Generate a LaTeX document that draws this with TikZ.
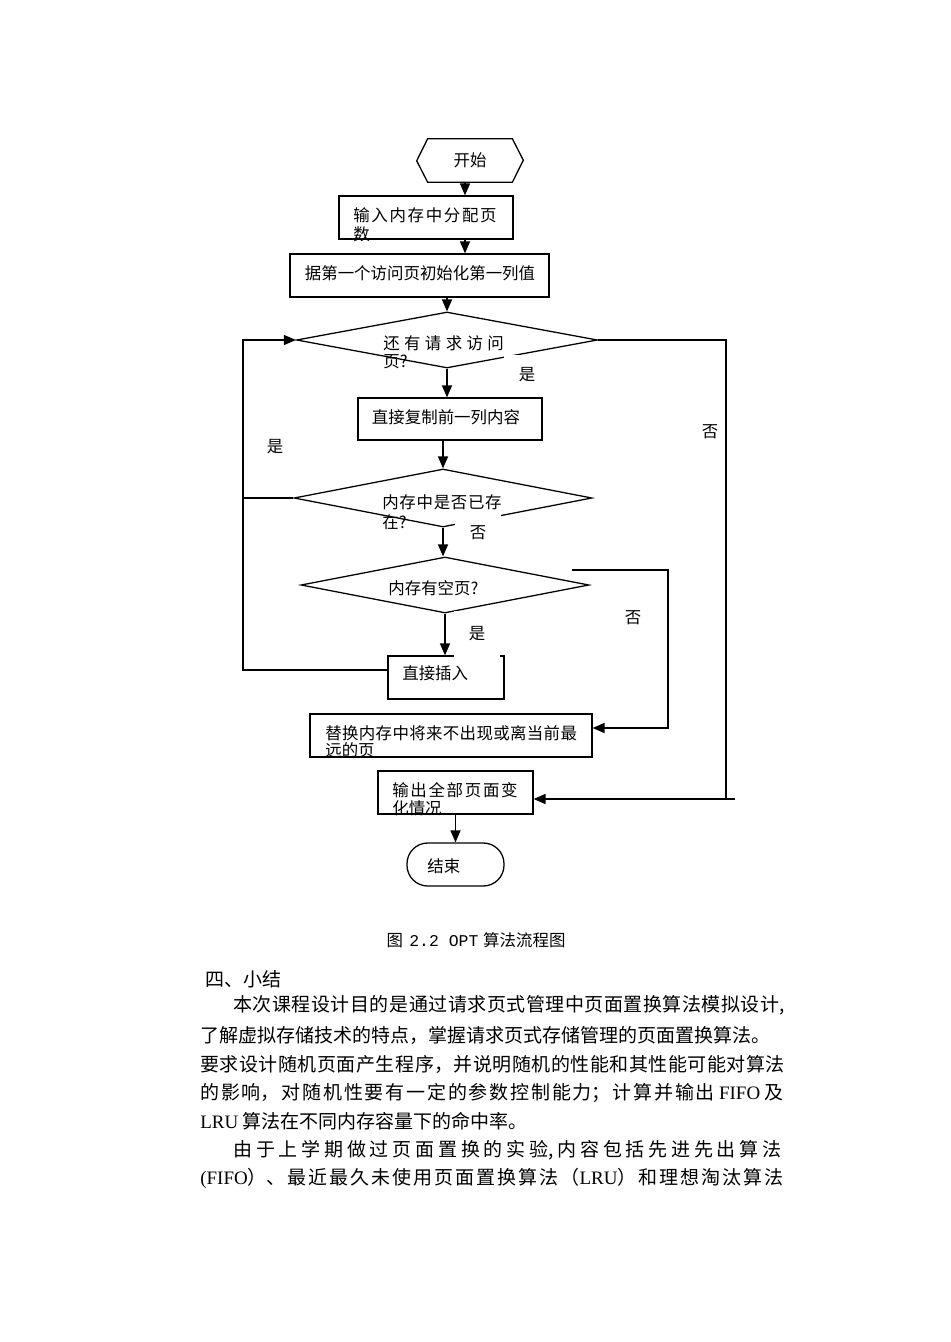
\documentclass[tikz,border=0pt]{standalone}
\usepackage{fontspec}
\setmainfont{Noto Sans CJK SC}
\newfontfamily\latinrm{Liberation Serif}
\newfontfamily\capmono{Liberation Mono}
\usetikzlibrary{positioning,shapes,arrows.meta}
\XeTeXlinebreaklocale "zh"
\XeTeXlinebreakskip=0pt plus 1fil
\XeTeXlinebreakpenalty=10000
\newcommand{\pxl}{0.6263pt}
\newcommand{\jl}[1]{\parfillskip=0pt\relax #1}
\tikzset{jline/.style={txt, text width=#1*\pxl, align=justify},
  bline/.style={body, text width=#1*\pxl, align=justify}}

\begin{document}
\begin{tikzpicture}[x=0.6263pt, y=-0.6263pt]
\tikzstyle{box}=[draw, rectangle, inner sep=0pt, line width=0.8pt]
\tikzstyle{dec}=[draw, diamond, inner sep=0pt, line width=0.8pt]
\tikzstyle{txt}=[inner sep=0pt, anchor=west, font=\fontsize{10.3}{12}\selectfont]
\tikzstyle{lbl}=[fill=white, inner sep=0pt, minimum width=46*\pxl, minimum height=40*\pxl, font=\fontsize{10.3}{12}\selectfont]
\tikzstyle{arr}=[-{Triangle[length=7.5pt,width=6.3pt]}, line width=0.8pt]
\tikzstyle{body}=[inner sep=0pt, anchor=west, font=\fontsize{11.9}{14}\selectfont]

\path[fill=white] (0,0) rectangle (950,1342);
\useasboundingbox (0,0) rectangle (950,1342);

% flow chart
\node[inner sep=0pt, minimum width=84*\pxl, minimum height=43*\pxl, font=\fontsize{10.3}{12}\selectfont] (start) at (470,160.5) {开始};
\draw[line width=0.8pt] (start.north west) -- (start.north east) -- ++(11,21.5) -- (start.south east) -- (start.south west) -- ++(-11,-21.5) -- cycle;

\node[box, minimum width=174*\pxl, minimum height=43*\pxl] (inBox) at (426,217.5) {};
\node[jline=145] (inT1) at (353,215) {\jl{输入内存中分配页}};
\node[txt] (inT2) at (353,234) {数};

\node[box, minimum width=259*\pxl, minimum height=43*\pxl] (initBox) at (419.5,275.5) {};
\node[txt, anchor=center] (initT) at (420,273) {据第一个访问页初始化第一列值};

\node[dec, minimum width=301*\pxl, minimum height=56*\pxl] (dec1) at (447,340) {};
\node[jline=125] (d1T1) at (383,343) {\jl{还有请求访问}};
\node[txt] (d1T2) at (383,362) {页?};

\node[box, minimum width=184*\pxl, minimum height=42*\pxl] (copyBox) at (450,419) {};
\node[txt, anchor=center] (copyT) at (446,417) {直接复制前一列内容};

\node[dec, minimum width=298*\pxl, minimum height=58*\pxl] (dec2) at (443,498) {};
\node[jline=120] (d2T1) at (382,502) {\jl{内存中是否已存}};
\node[txt] (d2T2) at (382,522) {在?};

\node[dec, minimum width=288*\pxl, minimum height=56*\pxl] (dec3) at (445,585) {};
\node[txt] (d3T) at (388,588) {内存有空页?};

\node[box, minimum width=116*\pxl, minimum height=43*\pxl] (insBox) at (446,677.5) {};
\node[txt] (insT) at (402,673) {直接插入};

\node[box, minimum width=282*\pxl, minimum height=43*\pxl] (repBox) at (451,735.5) {};
\node[jline=252] (repT1) at (325,733) {\jl{替换内存中将来不出现或离当前最}};
\node[txt] (repT2) at (325,750) {远的页};

\node[box, minimum width=155*\pxl, minimum height=43*\pxl] (outBox) at (455.5,792.5) {};
\node[jline=127] (outT1) at (392,790) {\jl{输出全部页面变}};
\node[txt] (outT2) at (392,808) {化情况};

\node[box, rounded corners=13pt, minimum width=97*\pxl, minimum height=43*\pxl] (stop) at (455.5,864.5) {};
\node[txt] (stopT) at (427,866) {结束};

% connectors
\coordinate (col) at (465,0);
\coordinate (loopL) at (243,670);
\coordinate (loopR) at (726,799);
\coordinate (loopRend) at (735,799);
\coordinate (d3s) at (572,570);
\coordinate (d3c) at (668,728);

\draw[arr] (start.south -| col) -- (inBox.north -| col);
\draw[arr] (inBox.south -| col) -- (initBox.north -| col);
\draw[arr] (initBox.south -| dec1.north) -- (dec1.north);
\draw[arr] (dec1.south) -- (dec1.south |- copyBox.north);
\draw[arr] (copyBox.south -| dec2.north) -- (dec2.north);
\draw[arr] (dec2.south) -- (dec2.south |- dec3.north);
\draw[arr] (dec3.south) -- (dec3.south |- insBox.north);
\draw[arr] (outBox.south) -- (stop.north);

\draw[arr] (insBox.west |- loopL) -- (loopL) |- (dec1.west);
\draw[line width=0.8pt] (dec2.west) -- (dec2.west -| loopL);
\draw[arr] (dec1.east) -| (loopR) -- (outBox.east |- loopR);
\draw[line width=0.8pt] (loopR) -- (loopRend);
\draw[arr] (d3s) -| (d3c) -- (repBox.east |- d3c);

% labels
\node[lbl] (yes1) at (527,375) {是};
\node[lbl] (no2) at (478,533) {否};
\node[lbl, minimum height=46*\pxl] (yes3) at (477,634) {是};
\node[txt, anchor=center] (yes2) at (275,447) {是};
\node[txt, anchor=center] (no1) at (710,432) {否};
\node[txt, anchor=center] (no3) at (633,618) {否};

% caption and text
\node[font=\fontsize{10.3}{12}\selectfont, inner sep=0pt] (cap) at (476,940) {图\hspace{4pt}{\capmono 2.2 OPT}\hspace{3pt}算法流程图};
\node[body] (sum) at (205,979) {四、小结};
\node[bline=552] (p1) at (233,1005) {\jl{本次课程设计目的是通过请求页式管理中页面置换算法模拟设计,}};
\node[body] (p2) at (200,1035) {了解虚拟存储技术的特点，掌握请求页式存储管理的页面置换算法。};
\node[bline=585] (p3) at (200,1064) {\jl{要求设计随机页面产生程序，并说明随机的性能和其性能可能对算法}};
\node[bline=585] (p4) at (200,1093) {\jl{的影响，对随机性要有一定的参数控制能力；计算并输出~{\latinrm FIFO}~及}};
\node[body] (p5) at (200,1121) {{\latinrm LRU}~算法在不同内存容量下的命中率。};
\node[bline=552] (p6) at (233,1150) {\jl{由于上学期做过页面置换的实验,内容包括先进先出算法}};
\node[bline=585] (p7) at (200,1178) {\jl{{\latinrm (FIFO}）、最近最久未使用页面置换算法（{\latinrm LRU}）和理想淘汰算法}};
\end{tikzpicture}
\end{document}
